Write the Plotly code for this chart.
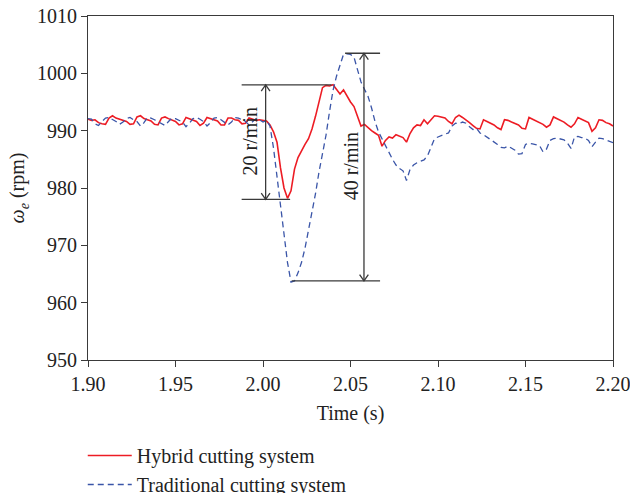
import numpy as np
import plotly.graph_objects as go

# Time grid (s), step 0.002 from 1.90 to 2.20
hybrid_rpm = [
    992.0, 991.8, 991.9, 991.4, 991.2, 991.1, 992.2, 992.6, 992.2, 992.0,
    991.9, 991.6, 991.1, 991.2, 992.4, 992.6, 992.1, 991.9, 991.7, 991.1,
    991.0, 992.2, 992.4, 992.1, 991.9, 991.6, 991.0, 991.2, 992.3, 992.1,
    991.9, 991.6, 990.9, 991.3, 992.3, 992.1, 991.9, 991.7, 991.0, 991.0,
    992.2, 992.2, 991.9, 991.8, 991.2, 991.3, 992.2, 992.0, 991.8, 991.9,
    991.8, 991.7, 991.0, 989.8, 988.0, 983.5, 980.0, 978.2, 979.5, 983.3,
    985.3, 986.5, 987.6, 988.6, 990.3, 992.5, 995.2, 997.5, 997.9, 997.8,
    998.0, 997.2, 996.4, 997.1, 996.0, 995.0, 994.2, 992.5, 990.8, 991.1,
    990.5, 990.0, 989.6, 989.2, 987.3, 988.3, 988.9, 988.7, 989.3, 989.0,
    988.8, 988.0, 989.5, 990.5, 991.0, 990.9, 991.9, 991.2, 992.0, 992.6,
    992.5, 992.3, 992.2, 991.6, 991.2, 992.3, 992.7, 992.3, 991.9, 991.4,
    990.9, 990.4, 990.3, 991.9, 991.6, 991.3, 991.0, 990.5, 990.2, 991.9,
    991.8, 991.5, 991.3, 991.0, 990.4, 990.3, 992.3, 992.0, 991.6, 991.4,
    991.1, 990.6, 991.0, 992.4, 992.1, 991.8, 991.5, 991.0, 990.6, 991.2,
    992.3, 992.0, 991.7, 991.4, 989.9, 990.5, 991.9, 991.8, 991.4, 991.2, 990.8,
]

traditional_rpm = [
    992.1, 992.0, 991.2, 990.9, 991.6, 992.2, 992.3, 992.0, 991.6, 991.1,
    991.5, 992.1, 992.3, 991.9, 991.6, 990.8, 991.4, 992.3, 992.2, 991.9,
    991.6, 991.2, 990.9, 991.6, 992.2, 992.1, 991.8, 991.5, 990.7, 991.3,
    992.1, 992.3, 992.0, 991.6, 990.8, 991.4, 992.2, 992.3, 991.9, 991.5,
    991.0, 991.5, 992.3, 992.2, 991.9, 991.6, 991.0, 991.6, 992.1, 991.9,
    991.5, 991.8, 990.8, 987.0, 982.0, 977.5, 972.5, 967.0, 963.6, 963.8,
    965.2, 967.0, 969.5, 972.5, 976.0, 979.0, 982.8, 986.0, 989.2, 993.3,
    997.0, 999.5, 1001.5, 1003.3, 1003.4, 1003.3, 1002.8, 1000.8, 998.5, 997.2,
    996.0, 994.0, 991.6, 989.8, 988.6, 987.3, 986.2, 985.0, 984.0, 983.4,
    983.0, 981.3, 983.2, 984.0, 984.4, 984.6, 984.9, 985.6, 987.0, 988.6,
    988.9, 989.2, 989.4, 989.6, 990.8, 991.3, 991.2, 991.5, 991.3, 990.7,
    990.2, 990.4, 989.6, 989.3, 988.9, 988.5, 988.0, 987.6, 987.1, 987.0,
    987.3, 987.0, 986.6, 985.9, 986.0, 987.6, 987.8, 987.7, 987.5, 987.4,
    986.3, 986.8, 988.3, 988.6, 988.7, 988.5, 988.4, 987.8, 986.9, 988.9,
    989.0, 988.8, 988.7, 988.3, 987.2, 988.0, 988.7, 988.6, 988.4, 988.2, 987.9,
]

time_s = np.round(np.linspace(1.90, 2.20, len(hybrid_rpm)), 4)

x_ticks = [1.90, 1.95, 2.00, 2.05, 2.10, 2.15, 2.20]
y_ticks = [950, 960, 970, 980, 990, 1000, 1010]

FONT = "Liberation Serif"
INK = "#3a3a3a"

fig = go.Figure()
fig.add_trace(go.Scatter(x=time_s, y=hybrid_rpm, mode="lines",
                         name="Hybrid cutting system",
                         line=dict(color="#ED1C24", width=1.6)))
fig.add_trace(go.Scatter(x=time_s, y=traditional_rpm, mode="lines",
                         name="Traditional cutting system",
                         line=dict(color="#3A55A8", width=1.3, dash="6px,4px")))

# Reference lines and double arrows
def hline(x0, x1, y):
    fig.add_shape(type="line", x0=x0, x1=x1, y0=y, y1=y, xref="x", yref="y",
                  line=dict(color=INK, width=1.3))

def varrow(x, y0, y1):
    fig.add_shape(type="line", x0=x, x1=x, y0=y0, y1=y1, xref="x", yref="y",
                  line=dict(color=INK, width=1.3))
    dx, dy = 0.0025, 1.1
    for yy, s in ((y1, -1), (y0, 1)):
        fig.add_shape(type="path",
                      path=f"M {x-dx},{yy+s*dy} L {x},{yy} L {x+dx},{yy+s*dy}",
                      xref="x", yref="y", line=dict(color=INK, width=1.3))

hline(1.9878, 2.0392, 998.0)
hline(1.9878, 2.0155, 978.0)
varrow(2.0015, 978.0, 998.0)
hline(2.0469, 2.0669, 1003.5)
hline(2.0164, 2.0669, 963.8)
varrow(2.0577, 963.8, 1003.5)

fig.add_annotation(x=1.9925, y=988.1, text="20 r/min", textangle=-90,
                   showarrow=False, font=dict(family=FONT, size=20, color="#222"))
fig.add_annotation(x=2.0500, y=983.7, text="40 r/min", textangle=-90,
                   showarrow=False, font=dict(family=FONT, size=20, color="#222"))

fig.update_layout(
    width=630, height=493,
    margin=dict(l=88, r=17, t=16, b=133),
    paper_bgcolor="white", plot_bgcolor="white",
    font=dict(family=FONT, size=20, color="#222"),
    showlegend=True,
    legend=dict(x=-0.01, xanchor="left", xref="paper",
                y=(493 - 436) / 493, yanchor="top", yref="container",
                font=dict(family=FONT, size=20, color="#222"),
                tracegroupgap=0, itemwidth=44, bgcolor="rgba(0,0,0,0)"),
)
fig.update_xaxes(range=[1.90, 2.20], tickvals=x_ticks,
                 ticktext=[f"{v:.2f}" for v in x_ticks],
                 showline=True, linecolor=INK, linewidth=1.2, mirror=True,
                 ticks="outside", ticklen=6, tickcolor=INK, showgrid=False,
                 zeroline=False, automargin=False, ticklabeloverflow="allow",
                 title=dict(text="Time (s)", font=dict(family=FONT, size=20), standoff=11))
fig.update_yaxes(range=[950, 1010], tickvals=y_ticks,
                 showline=True, linecolor=INK, linewidth=1.2, mirror=True,
                 ticks="outside", ticklen=6, tickcolor=INK, showgrid=False,
                 zeroline=False, automargin=False,
                 title=dict(text="<i>ω<sub>e</sub></i> (rpm)",
                            font=dict(family=FONT, size=20), standoff=6))

fig.write_html("out.html", config={"displayModeBar": False},
               post_script="document.body.style.margin='0';")
